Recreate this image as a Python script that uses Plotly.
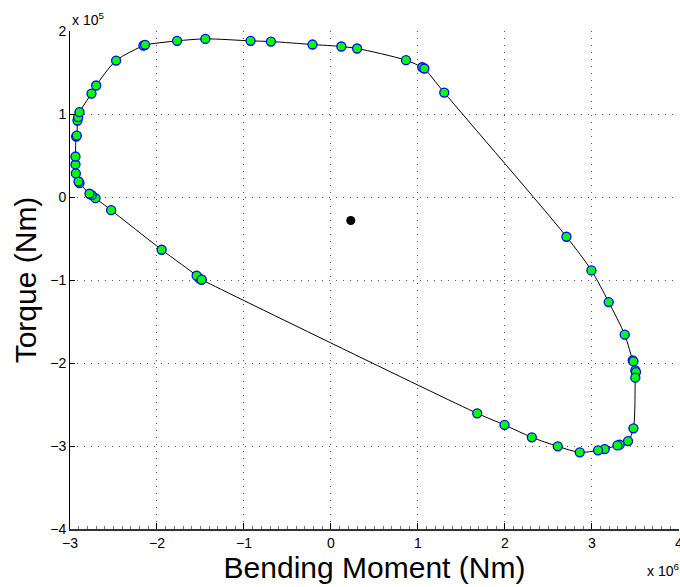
import plotly.graph_objects as go

# Loop data (Bending moment in 1e6 Nm, Torque in 1e5 Nm)
bending_moment = [
    -1.487, -1.513, -1.544, -1.946, -2.527, -2.707, -2.750, -2.776, -2.891, -2.902,
    -2.933, -2.937, -2.937, -2.929, -2.922, -2.914, -2.906, -2.891, -2.753, -2.699,
    -2.470, -2.156, -2.137, -1.769, -1.444, -0.924, -0.690, -0.212, 0.120, 0.301,
    0.863, 1.050, 1.074, 1.303, 2.708, 2.995, 3.194, 3.378, 3.470, 3.478,
    3.500, 3.507, 3.500, 3.478, 3.416, 3.320, 3.294, 3.148, 3.071, 2.861,
    2.608, 2.310, 1.996, 1.682, -1.487,
]
torque = [
    -0.995, -0.980, -0.947, -0.634, -0.157, -0.012, 0.024, 0.041, 0.169, 0.189,
    0.286, 0.394, 0.490, 0.731, 0.743, 0.924, 0.964, 1.024, 1.249, 1.346,
    1.647, 1.828, 1.836, 1.884, 1.908, 1.884, 1.876, 1.840, 1.816, 1.792,
    1.651, 1.566, 1.551, 1.261, -0.477, -0.883, -1.265, -1.658, -1.967, -1.980,
    -2.088, -2.108, -2.176, -2.787, -2.940, -2.983, -2.992, -3.036, -3.052, -3.076,
    -3.004, -2.895, -2.746, -2.606, -0.995,
]
center_x = [0.228]
center_y = [-0.281]

x_ticks = [-3, -2, -1, 0, 1, 2, 3, 4]
y_ticks = [-4, -3, -2, -1, 0, 1, 2]

fig = go.Figure()
fig.add_trace(go.Scatter(
    x=bending_moment, y=torque, mode="lines+markers",
    line=dict(color="black", width=1, shape="spline", smoothing=0.8),
    marker=dict(size=9, color="#00ff00", line=dict(color="#0000ff", width=1.3)),
    showlegend=False, cliponaxis=False,
))
fig.add_trace(go.Scatter(
    x=center_x, y=center_y, mode="markers",
    marker=dict(size=9, color="black"), showlegend=False,
))

font = "Liberation Sans, Arial, Helvetica, sans-serif"
fig.update_layout(
    width=680, height=587,
    margin=dict(l=70, r=1, t=31, b=58, autoexpand=False),
    plot_bgcolor="white", paper_bgcolor="white",
    font=dict(family=font, color="black", size=14),
    xaxis=dict(
        range=[-3, 4.002], tickvals=x_ticks, showline=True, linecolor="#333", linewidth=1.5,
        ticks="inside", ticklen=6, tickcolor="black", zeroline=False, automargin=False,
        showgrid=True, gridcolor="#555", griddash="1px,6px", gridwidth=1,
        minor=dict(ticks="inside", ticklen=3, dtick=0.1, tickcolor="#777", showgrid=False),
        title=dict(text="Bending Moment (Nm)", font=dict(size=30), standoff=4),
        tickfont=dict(size=14), ticklabeloverflow="allow",
    ),
    yaxis=dict(
        range=[-4, 2.003], tickvals=y_ticks, showline=True, linecolor="black", linewidth=1,
        ticks="inside", ticklen=5, tickcolor="black", zeroline=False, automargin=False,
        showgrid=True, gridcolor="#555", griddash="1px,6px", gridwidth=1,
        title=dict(text="Torque (Nm)", font=dict(size=30), standoff=4),
        tickfont=dict(size=14), ticklabeloverflow="allow",
    ),
    annotations=[
        dict(text="x 10<sup>5</sup>", xref="paper", yref="paper", x=0, y=1.024,
             xanchor="left", yanchor="middle", showarrow=False, font=dict(size=14)),
        dict(text="x 10<sup>6</sup>", xref="paper", yref="paper", x=1.003, y=-0.082,
             xanchor="right", yanchor="middle", showarrow=False, font=dict(size=14)),
    ],
)

fig.write_html(
    "out.html",
    config={"displayModeBar": False},
    post_script="document.body.style.margin='0';document.body.style.overflow='hidden';",
)
